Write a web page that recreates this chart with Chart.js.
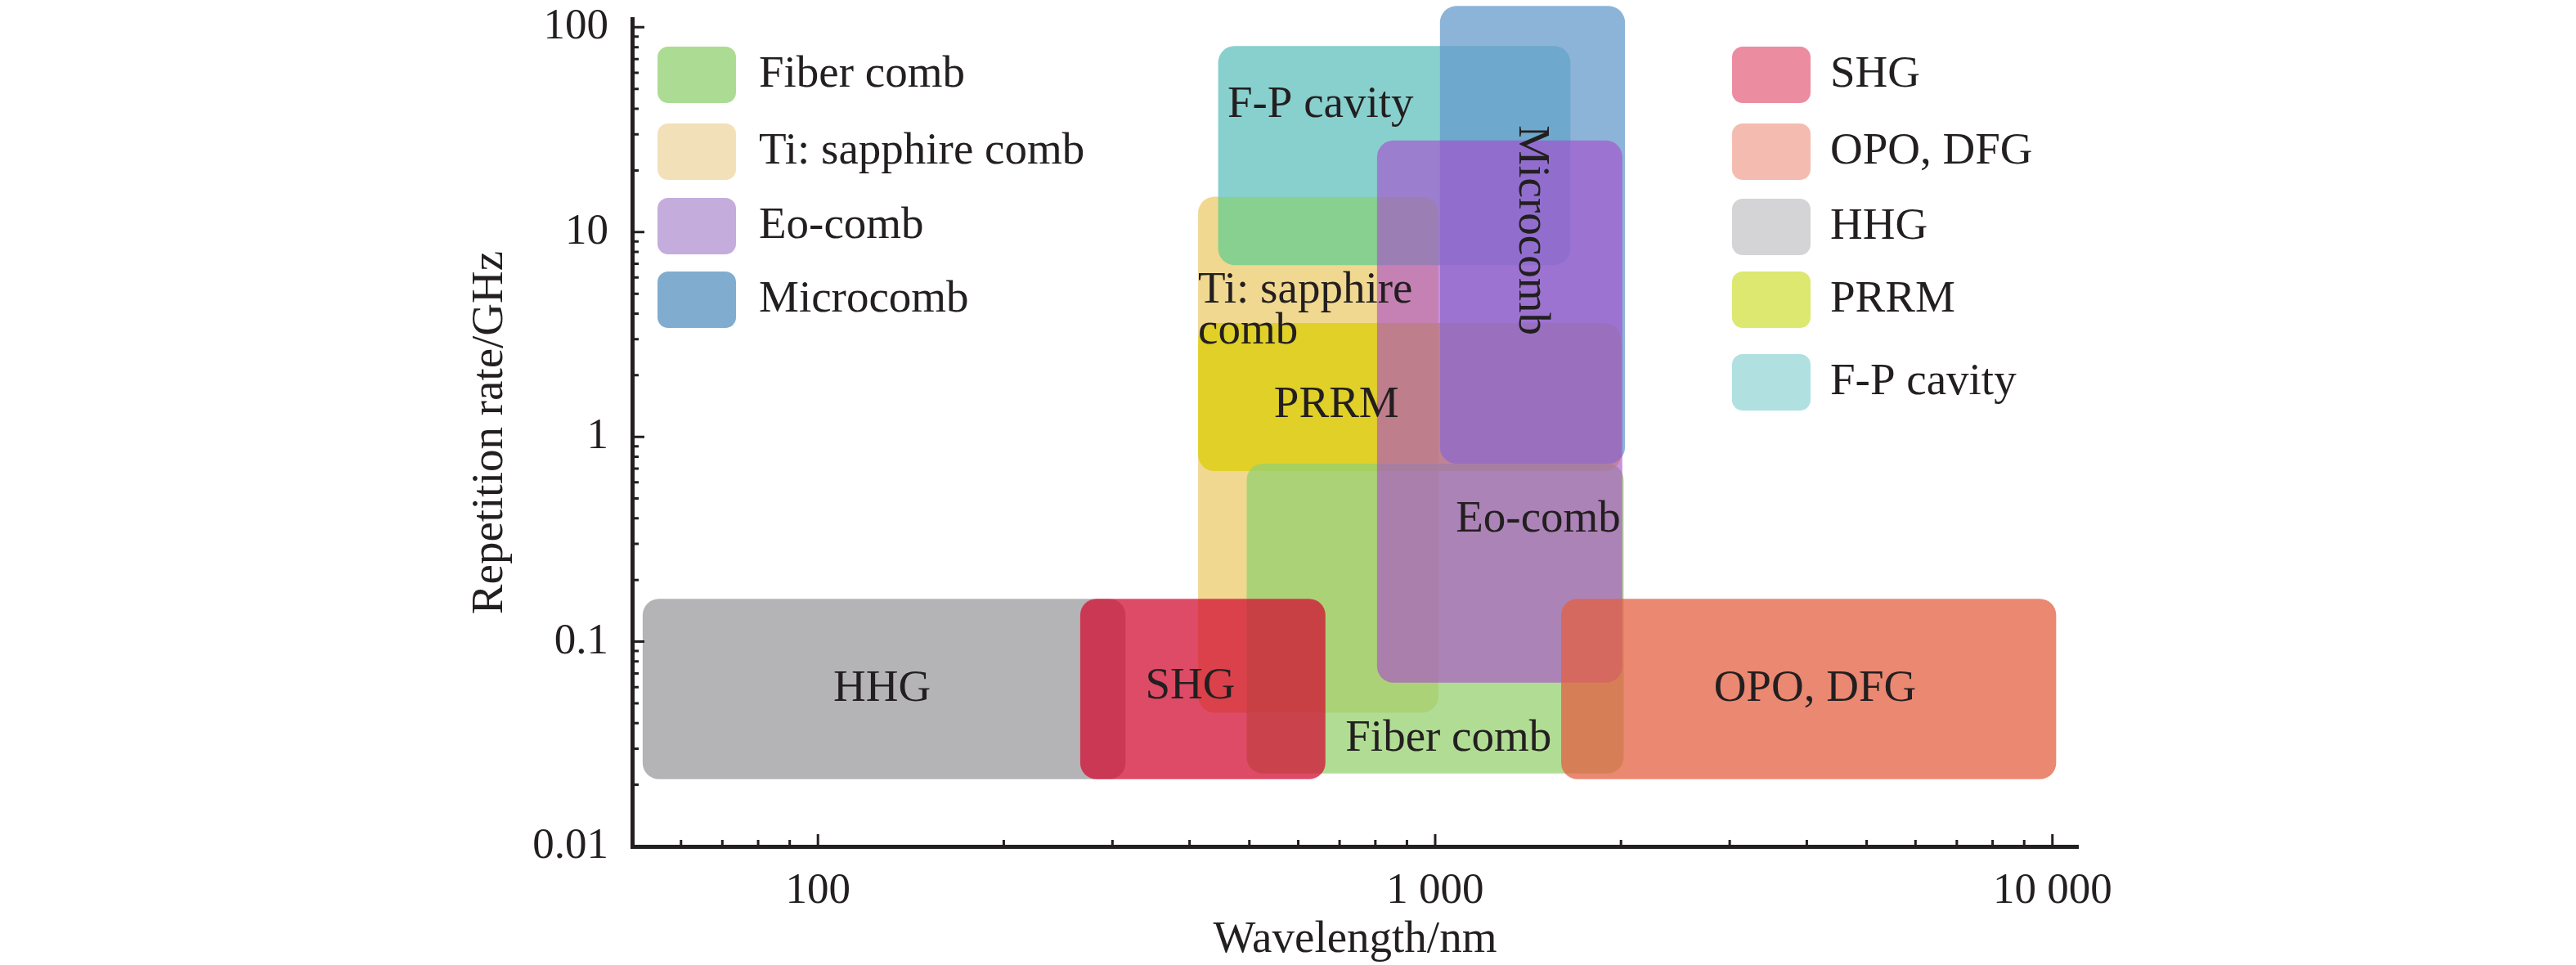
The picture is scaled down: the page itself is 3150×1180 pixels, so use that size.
<!DOCTYPE html>
<html>
<head>
<meta charset="utf-8">
<script src="https://cdn.jsdelivr.net/npm/chart.js@4.4.1/dist/chart.umd.min.js"></script>
<style>
  html, body { margin: 0; padding: 0; background: #fff; }
  #wrap { width: 3150px; height: 1180px; }
</style>
</head>
<body>
<div id="wrap"><canvas id="chart" width="3150" height="1180"></canvas></div>
<script>
// Source ranges, listed in draw order (bottom layer first)
const sources  = ['HHG', 'Ti: sapphire comb', 'PRRM', 'Fiber comb', 'F-P cavity', 'Microcomb', 'Eo-comb', 'SHG', 'OPO, DFG'];
const wlStart  = [52, 413, 413, 495, 445, 1018, 805, 266, 1600];          // nm
const wlEnd    = [315, 1012, 2000, 2020, 1656, 2030, 2010, 664, 10140];    // nm
const rateLow  = [0.0213, 0.045, 0.68, 0.0227, 6.9, 0.74, 0.063, 0.0213, 0.0213];  // GHz
const rateHigh = [0.162, 14.9, 3.6, 0.74, 81, 127, 28, 0.162, 0.162];             // GHz

// name written inside each box, and where it sits (nm, GHz)
const tagText  = ['HHG', 'Ti: sapphire\ncomb', 'PRRM', 'Fiber comb', 'F-P cavity', 'Microcomb', 'Eo-comb', 'SHG', 'OPO, DFG'];
const tagWl    = [127, 413, 692, 1051, 652, 1433, 1469, 401, 4124];
const tagRate  = [0.0587, 4.11, 1.42, 0.0334, 41.6, 10.2, 0.395, 0.0601, 0.0587];

// axis labels
const xTickLabels = [100, 1000, 10000];
const yTickLabels = [0.01, 0.1, 1, 10, 100];

// legend columns
const legendLeft  = ['Fiber comb', 'Ti: sapphire comb', 'Eo-comb', 'Microcomb'];
const legendRight = ['SHG', 'OPO, DFG', 'HHG', 'PRRM', 'F-P cavity'];

const ink = '#231f20';
const serif = '"Liberation Serif", "Times New Roman", serif';

const fillColors = {
  'HHG': 'rgba(155,155,158,0.75)',
  'Ti: sapphire comb': 'rgba(235,203,107,0.75)',
  'PRRM': 'rgba(219,205,5,0.75)',
  'Fiber comb': 'rgba(150,208,112,0.75)',
  'F-P cavity': 'rgb(136,208,206)',
  'Microcomb': 'rgba(102,155,203,0.75)',
  'Eo-comb': 'rgba(168,72,205,0.6)',
  'SHG': 'rgba(211,15,51,0.75)',
  'OPO, DFG': 'rgba(227,96,67,0.75)'
};
// F-P cavity mixes with what lies under it rather than covering it
const blendModes = { 'F-P cavity': 'darken' };
const swatchColors = {
  'Fiber comb': '#acdc94',
  'Ti: sapphire comb': '#f2e0b8',
  'Eo-comb': '#c4acdc',
  'Microcomb': '#80acd0',
  'SHG': '#ec8ca0',
  'OPO, DFG': '#f4bcb0',
  'HHG': '#d4d4d6',
  'PRRM': '#dce870',
  'F-P cavity': '#b0e0e0'
};
const tagStyle = {
  'Ti: sapphire comb': { align: 'left' },
  'Microcomb': { rotate: Math.PI / 2 }
};

function isLabelled(v, list) {
  return list.some(l => Math.abs(v / l - 1) < 1e-6);
}

function fmtNumber(v) {
  if (v >= 1000) return String(Math.round(v)).replace(/\B(?=(\d{3})+(?!\d))/g, ' ');
  return String(v);
}

// 1..9 x 10^n ticks inside [min, max]
function decadeTicks(min, max) {
  const out = [];
  for (let e = Math.floor(Math.log10(min)); e <= Math.ceil(Math.log10(max)); e++) {
    for (let m = 1; m < 10; m++) {
      const v = m * Math.pow(10, e);
      if (v >= min * 0.9999 && v <= max * 1.0001) out.push({ value: v, major: m === 1 });
    }
  }
  return out;
}

function roundBox(ctx, x, y, w, h, r) {
  r = Math.min(r, w / 2, h / 2);
  ctx.beginPath();
  ctx.moveTo(x + r, y);
  ctx.arcTo(x + w, y, x + w, y + h, r);
  ctx.arcTo(x + w, y + h, x, y + h, r);
  ctx.arcTo(x, y + h, x, y, r);
  ctx.arcTo(x, y, x + w, y, r);
  ctx.closePath();
}

const boxesPlugin = {
  id: 'boxes',
  beforeDraw(chart) {
    const ctx = chart.ctx;
    ctx.save();
    ctx.fillStyle = '#fff';
    ctx.fillRect(0, 0, chart.width, chart.height);
    ctx.restore();
  },
  beforeDatasetsDraw(chart) {
    const ctx = chart.ctx;
    chart.data.datasets.forEach((ds, i) => {
      const pts = chart.getDatasetMeta(i).data;
      const x0 = Math.min(pts[0].x, pts[1].x), x1 = Math.max(pts[0].x, pts[1].x);
      const y0 = Math.min(pts[0].y, pts[1].y), y1 = Math.max(pts[0].y, pts[1].y);
      ctx.save();
      ctx.globalCompositeOperation = blendModes[ds.label] || 'source-over';
      ctx.fillStyle = ds.backgroundColor;
      roundBox(ctx, x0, y0, x1 - x0, y1 - y0, 20);
      ctx.fill();
      ctx.restore();
    });
  },
  afterDatasetsDraw(chart) {
    const { ctx, chartArea, scales: { x, y } } = chart;
    ctx.save();

    // names inside the boxes
    ctx.fillStyle = ink;
    ctx.font = '55px ' + serif;
    ctx.textBaseline = 'middle';
    sources.forEach((name, i) => {
      const st = tagStyle[name] || {};
      const px = x.getPixelForValue(tagWl[i]);
      const py = y.getPixelForValue(tagRate[i]);
      const lines = tagText[i].split('\n');
      ctx.save();
      ctx.translate(px, py);
      if (st.rotate) ctx.rotate(st.rotate);
      ctx.textAlign = st.align || 'center';
      lines.forEach((ln, k) => {
        ctx.fillText(ln, 0, (k - (lines.length - 1) / 2) * 50);
      });
      ctx.restore();
    });

    // inward tick marks
    ctx.strokeStyle = ink;
    ctx.lineWidth = 3;
    ctx.beginPath();
    x.ticks.forEach(t => {
      if (t.value <= x.min || t.value >= x.max) return;
      const px = x.getPixelForValue(t.value);
      ctx.moveTo(px, chartArea.bottom);
      ctx.lineTo(px, chartArea.bottom - (t.major ? 15 : 8));
    });
    y.ticks.forEach(t => {
      if (t.value <= y.min || t.value >= y.max) return;
      const py = y.getPixelForValue(t.value);
      ctx.moveTo(chartArea.left, py);
      ctx.lineTo(chartArea.left + (t.major ? 15 : 8), py);
    });
    ctx.stroke();

    // legends
    const drawLegend = (names, sx, tx, tops) => {
      names.forEach((name, k) => {
        ctx.fillStyle = swatchColors[name];
        roundBox(ctx, sx, tops[k], 96, 69, 13);
        ctx.fill();
        ctx.fillStyle = ink;
        ctx.textAlign = 'left';
        ctx.fillText(name, tx, tops[k] + 35);
      });
    };
    drawLegend(legendLeft, 804, 928, [57, 151, 242, 332]);
    drawLegend(legendRight, 2118, 2238, [57, 151, 243, 332, 433]);

    ctx.restore();
  }
};

new Chart(document.getElementById('chart'), {
  type: 'scatter',
  data: {
    datasets: sources.map((name, i) => ({
      label: name,
      data: [{ x: wlStart[i], y: rateLow[i] }, { x: wlEnd[i], y: rateHigh[i] }],
      backgroundColor: fillColors[name],
      pointRadius: 0,
      pointHoverRadius: 0,
      pointHitRadius: 0,
      showLine: false,
      clip: false
    }))
  },
  options: {
    responsive: false,
    animation: false,
    devicePixelRatio: 1,
    events: [],
    layout: { padding: { left: 560, right: 609, top: 23, bottom: 0 } },
    plugins: { legend: { display: false }, tooltip: { enabled: false } },
    scales: {
      x: {
        type: 'logarithmic',
        position: 'bottom',
        min: 50,
        max: 11000,
        grid: { display: false, drawTicks: false },
        border: { display: true, color: ink, width: 5 },
        afterBuildTicks: s => { s.ticks = decadeTicks(s.min, s.max); },
        afterFit: s => { s.height = 145; s.paddingLeft = 0; s.paddingRight = 0; },
        ticks: {
          autoSkip: false, maxRotation: 0, minRotation: 0, padding: 23,
          color: ink, font: { family: serif, size: 53 },
          callback: v => isLabelled(v, xTickLabels) ? fmtNumber(v) : ''
        },
        title: {
          display: true, text: 'Wavelength/nm', color: ink,
          font: { family: serif, size: 55, lineHeight: 1.1 }, padding: { top: 0, bottom: 0 }
        }
      },
      y: {
        type: 'logarithmic',
        position: 'left',
        min: 0.01,
        max: 110,
        grid: { display: false, drawTicks: false },
        border: { display: true, color: ink, width: 5 },
        afterBuildTicks: s => { s.ticks = decadeTicks(s.min, 100); },
        afterFit: s => { s.width = 213; s.paddingTop = 0; s.paddingBottom = 0; },
        ticks: {
          autoSkip: false, padding: 29,
          color: ink, font: { family: serif, size: 53 },
          callback: v => isLabelled(v, yTickLabels) ? fmtNumber(v) : ''
        },
        title: {
          display: true, text: 'Repetition rate/GHz', color: ink,
          font: { family: serif, size: 55 }, padding: { top: 7, bottom: 0 }
        }
      }
    }
  },
  plugins: [boxesPlugin]
});
</script>
</body>
</html>
